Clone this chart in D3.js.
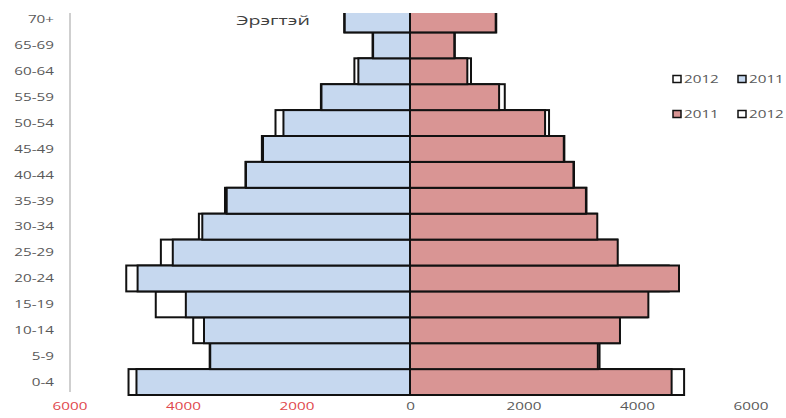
<!DOCTYPE html>
<html>
<head>
<meta charset="utf-8">
<script src="https://cdn.jsdelivr.net/npm/d3@7"></script>
<style>
  body { margin: 0; background: #fff; }
  svg { display: block; }
  text { font-family: "Open Sans", sans-serif; }
</style>
</head>
<body>
<svg id="chart" width="786" height="418"></svg>
<script>
// ---- data ----
const ageGroups = ["0-4","5-9","10-14","15-19","20-24","25-29","30-34","35-39","40-44","45-49","50-54","55-59","60-64","65-69","70+"];
const male2011   = [4820, 3520, 3630, 3950, 4800, 4180, 3660, 3230, 2890, 2590, 2230, 1560, 910, 650, 1150];
const male2012   = [4960, 3530, 3820, 4480, 5000, 4390, 3720, 3260, 2900, 2610, 2370, 1570, 980, 660, 1160];
const female2011 = [4610, 3310, 3700, 4200, 4740, 3660, 3300, 3100, 2880, 2710, 2380, 1570, 1010, 780, 1510];
const female2012 = [4830, 3340, 3690, 4180, 4560, 3650, 3290, 3110, 2890, 2720, 2450, 1670, 1075, 790, 1520];
const tickValues = [-6000, -4000, -2000, 0, 2000, 4000, 6000];
const maleTitle = "Эрэгтэй";
const legendRow1 = ["2012", "2011"];
const legendRow2 = ["2011", "2012"];

// ---- drawing ----
const svg = d3.select("#chart");
const SX = 1.45; // horizontal text stretch seen in the reference

const x = d3.scaleLinear().domain([-6000, 6000]).range([69.5, 750.5]);
const y = d3.scaleBand().domain(ageGroups.slice().reverse()).range([6.5, 395]).padding(0);

svg.append("defs").append("clipPath").attr("id", "clip")
  .append("rect").attr("x", 0).attr("y", 13).attr("width", 786).attr("height", 405);

const plot = svg.append("g").attr("clip-path", "url(#clip)");

// vertical axis line
plot.append("line").attr("x1", 70).attr("x2", 70).attr("y1", 13).attr("y2", 392)
  .attr("stroke", "#bfbfbf").attr("stroke-width", 1.5);

const rows = ageGroups.map((g, i) => ({ g, m11: male2011[i], m12: male2012[i], f11: female2011[i], f12: female2012[i] }));

const stroke = "#111";
const sw = 2;
const blue = "#c6d8ef";
const pink = "#d99594";

// 2012 (behind, white)
plot.selectAll(".m12").data(rows).join("rect")
  .attr("x", d => x(-d.m12)).attr("y", d => y(d.g))
  .attr("width", d => x(0) - x(-d.m12)).attr("height", y.bandwidth())
  .attr("fill", "#fff").attr("stroke", stroke).attr("stroke-width", sw);
plot.selectAll(".f12").data(rows).join("rect")
  .attr("x", x(0)).attr("y", d => y(d.g))
  .attr("width", d => x(d.f12) - x(0)).attr("height", y.bandwidth())
  .attr("fill", "#fff").attr("stroke", stroke).attr("stroke-width", sw);
// 2011 (front, coloured)
plot.selectAll(".m11").data(rows).join("rect")
  .attr("x", d => x(-d.m11)).attr("y", d => y(d.g))
  .attr("width", d => x(0) - x(-d.m11)).attr("height", y.bandwidth())
  .attr("fill", blue).attr("stroke", stroke).attr("stroke-width", sw);
plot.selectAll(".f11").data(rows).join("rect")
  .attr("x", x(0)).attr("y", d => y(d.g))
  .attr("width", d => x(d.f11) - x(0)).attr("height", y.bandwidth())
  .attr("fill", pink).attr("stroke", stroke).attr("stroke-width", sw);

// category labels
svg.append("g").selectAll("text").data(ageGroups).join("text")
  .attr("transform", d => `translate(54,${y(d) + y.bandwidth() / 2}) scale(${SX},1)`)
  .attr("text-anchor", "end").attr("dy", "0.36em")
  .attr("font-size", "10.5px").attr("fill", "#595959")
  .text(d => d);

// bottom axis
const ax = svg.append("g").attr("transform", "translate(0,400)")
  .call(d3.axisBottom(x).tickValues(tickValues).tickSize(0).tickFormat(d => Math.abs(d)));
ax.select(".domain").remove();
ax.selectAll("text")
  .attr("font-family", "Open Sans, sans-serif")
  .attr("font-size", "10.5px")
  .attr("y", 0).attr("dy", "0.71em")
  .attr("transform", `translate(0,3) scale(${SX},1)`)
  .attr("fill", d => d < 0 ? "#e0474c" : "#595959");

// title
svg.append("text").attr("transform", `translate(273,25) scale(${SX},1)`)
  .attr("text-anchor", "middle").attr("font-size", "13.5px").attr("fill", "#404040")
  .text(maleTitle);

// legend
const legendColors1 = ["#fff", blue];
const legendColors2 = [pink, "#fff"];
function legendRow(labels, colors, cy) {
  labels.forEach((lab, i) => {
    const x0 = 673 + i * 65;
    svg.append("rect").attr("x", x0).attr("y", cy - 3.5).attr("width", 8).attr("height", 7)
      .attr("fill", colors[i]).attr("stroke", "#111").attr("stroke-width", 1.5);
    svg.append("text").attr("transform", `translate(${x0 + 11},${cy}) scale(${SX},1)`)
      .attr("dy", "0.36em").attr("font-size", "10.5px").attr("fill", "#595959").text(lab);
  });
}
legendRow(legendRow1, legendColors1, 79);
legendRow(legendRow2, legendColors2, 114);
</script>
</body>
</html>
